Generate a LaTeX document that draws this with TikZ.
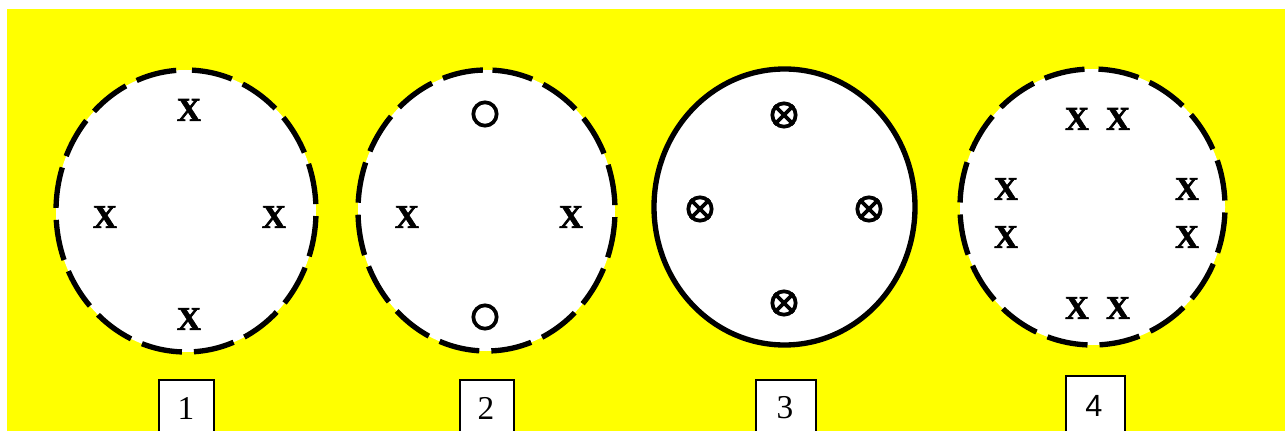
\documentclass[tikz,border=0pt]{standalone}
\usepackage{fontspec}
\setmainfont{Liberation Serif}
\newfontfamily\boxsans{Liberation Sans}
\newfontfamily\xfont{Liberation Serif}[UprightFont=* Bold, UprightFeatures={FakeBold=2}]
\definecolor{bgyellow}{RGB}{255,255,0}
\tikzset{
  x=0.75pt, y=-0.75pt,
  ring/.style={line width=4pt, fill=white},
  dashring/.style={ring, dash pattern=on 30.75pt off 9pt, dash phase=35.25pt},
  xmark/.style={inner sep=0pt, font=\xfont\fontsize{25}{25}\selectfont},
  hole/.style={circle, draw, line width=2.8pt, minimum size=17.5pt, inner sep=0pt},
  numbox/.style={draw, fill=white, line width=1.4pt, inner sep=0pt},
  numtext/.style={inner sep=0pt, font=\fontsize{25}{25}\selectfont},
}
\newcommand{\dashell}[4]{%
  \draw[dashring] (#1,#2) ++(270:{#3} and {#4}) arc[start angle=270, end angle=630, x radius=#3, y radius=#4];}
\newcommand{\otimesmark}[3]{%
  \node[hole] (#1) at (#2,#3) {};
  \draw[line width=2.8pt] (#1.45) -- (#1.225) (#1.135) -- (#1.315);}
\begin{document}
\begin{tikzpicture}
\useasboundingbox (0,0) rectangle (1285,431);
\clip (0,0) rectangle (1285,431);
\fill[bgyellow] (7,9) rectangle (1285,440);
% circle 1
\dashell{186}{211}{130}{141}
\node[xmark] (a1) at (189,110) {X};
\node[xmark] (a2) at (105,217) {X};
\node[xmark] (a3) at (274,217) {X};
\node[xmark] (a4) at (189,319) {X};
% circle 2
\dashell{486.5}{210.5}{128.5}{140.5}
\node[hole] (c1) at (485,114) {};
\node[hole] (c2) at (485,317) {};
\node[xmark] (b1) at (407,217) {X};
\node[xmark] (b2) at (571,217) {X};
% circle 3
\draw[ring] (784.5,207) ellipse[x radius=130.5, y radius=138];
\otimesmark{o1}{784}{115}
\otimesmark{o2}{700}{209}
\otimesmark{o3}{869}{209}
\otimesmark{o4}{784}{303}
% circle 4
\dashell{1092.5}{207}{132.5}{138}
\node[xmark] (d1) at (1077,119) {X};
\node[xmark] (d2) at (1118,119) {X};
\node[xmark] (d3) at (1006,189) {X};
\node[xmark] (d4) at (1006,237) {X};
\node[xmark] (d5) at (1187,189) {X};
\node[xmark] (d6) at (1187,237) {X};
\node[xmark] (d7) at (1077,308) {X};
\node[xmark] (d8) at (1118,308) {X};
% number boxes
\node[numbox, minimum width=41.25pt, minimum height=60pt, anchor=north west] (box1) at (158,379) {};
\node[numtext] (n1) at (186,408) {1};
\node[numbox, minimum width=40.5pt, minimum height=60pt, anchor=north west] (box2) at (459,379) {};
\node[numtext] (n2) at (486,408) {2};
\node[numbox, minimum width=45pt, minimum height=60pt, anchor=north west] (box3) at (755,379) {};
\node[numtext] (n3) at (785,408) {3};
\node[numbox, minimum width=44.25pt, minimum height=60pt, anchor=north west] (box4) at (1065,375) {};
\node[inner sep=0pt, font=\boxsans\fontsize{23}{23}\selectfont] (n4) at (1094,406) {4};
\end{tikzpicture}
\end{document}
